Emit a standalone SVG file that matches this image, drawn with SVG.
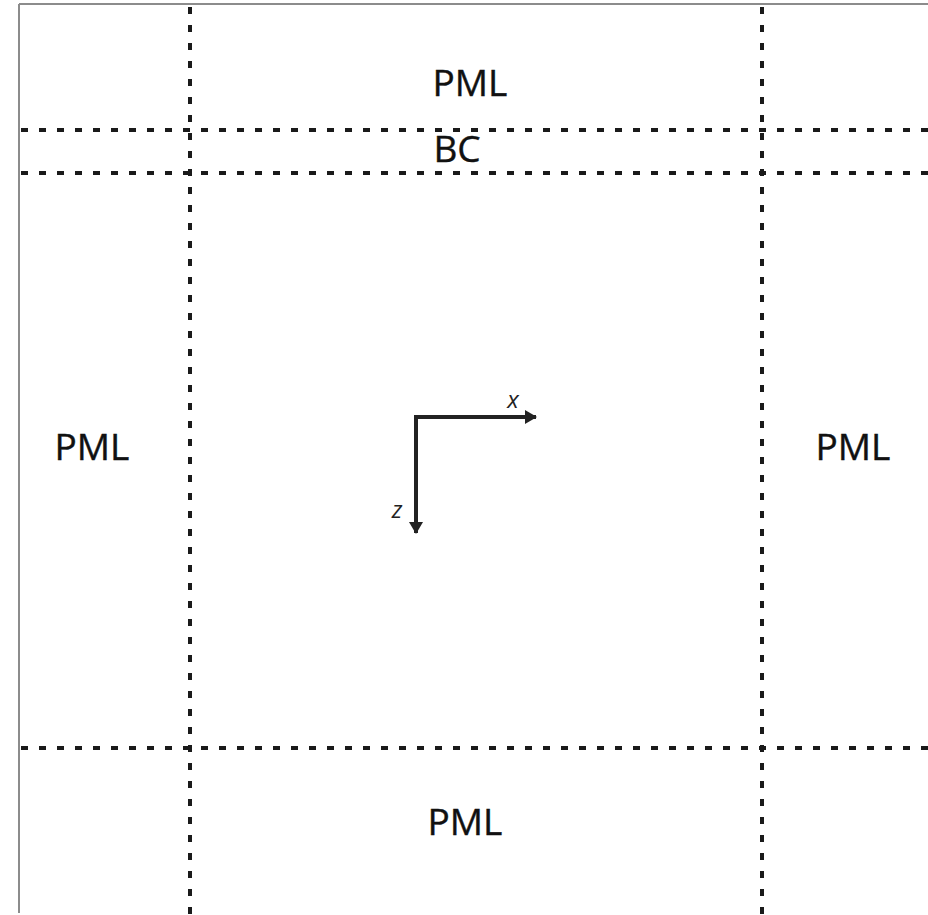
<svg xmlns="http://www.w3.org/2000/svg" width="928" height="915" viewBox="0 0 928 915">
<style>
.frame{stroke:#8c8c8c;stroke-width:2;fill:none}
.dash{stroke:#1a1a1a;stroke-width:4;stroke-dasharray:7 11;fill:none}
.lbl{font-family:"Open Sans","Noto Sans",sans-serif;font-size:37px;fill:#111;text-anchor:middle;stroke:#111;stroke-width:0.4}
.ax{font-family:"Open Sans","Noto Sans",sans-serif;font-size:24px;font-style:italic;fill:#222;text-anchor:middle}
.axis{stroke:#222;stroke-width:4;fill:none}
</style>
<defs>
<marker id="ah" viewBox="0 0 12 14" refX="11" refY="7" markerWidth="12" markerHeight="14" markerUnits="userSpaceOnUse" orient="auto">
<path d="M0,0 L12,7 L0,14 Z" fill="#222"/>
</marker>
</defs>
<rect width="928" height="915" fill="#fff"/>
<g id="frame">
<line class="frame" x1="19" y1="4" x2="928" y2="4"/>
<line class="frame" x1="19" y1="4" x2="19" y2="913"/>
</g>
<g id="connectors">
<line class="dash" x1="190" y1="7" x2="190" y2="915"/>
<line class="dash" x1="762" y1="7" x2="762" y2="915"/>
<line class="dash" x1="21" y1="130" x2="928" y2="130"/>
<line class="dash" x1="21" y1="173" x2="928" y2="173"/>
<line class="dash" x1="21" y1="748" x2="928" y2="748"/>
</g>
<g id="pml-top"><text class="lbl" x="470" y="96">PML</text></g>
<g id="bc"><text class="lbl" x="457" y="162">BC</text></g>
<g id="pml-left"><text class="lbl" x="92" y="460">PML</text></g>
<g id="pml-right"><text class="lbl" x="853" y="460">PML</text></g>
<g id="pml-bottom"><text class="lbl" x="465" y="835">PML</text></g>
<g id="axes">
<path class="axis" d="M414,417 L536,417" marker-end="url(#ah)"/>
<path class="axis" d="M416,415 L416,533" marker-end="url(#ah)"/>
<text class="ax" x="513" y="408">x</text>
<text class="ax" x="397" y="518">z</text>
</g>
</svg>
